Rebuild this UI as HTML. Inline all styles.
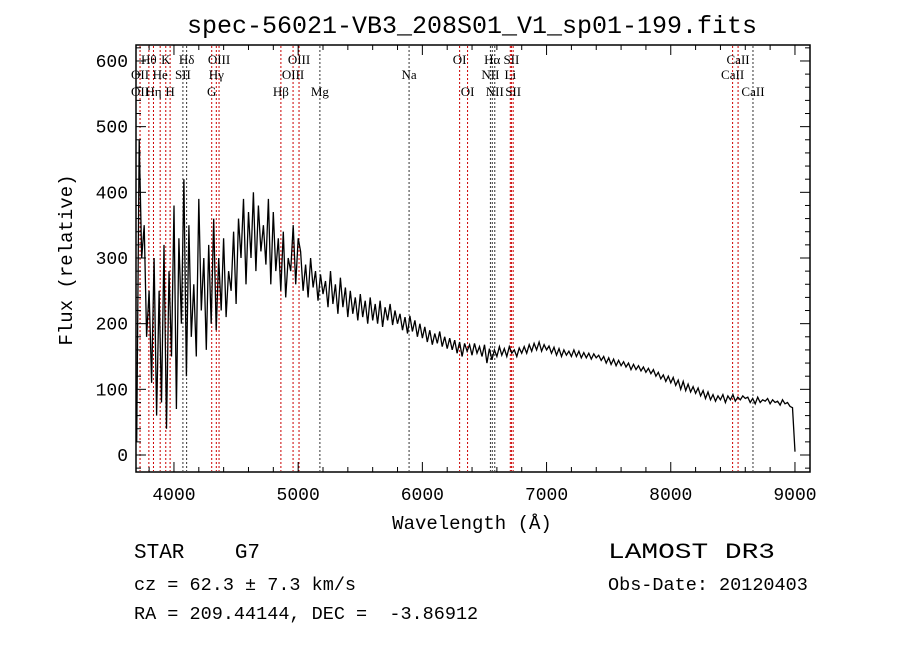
<!DOCTYPE html>
<html><head><meta charset="utf-8"><style>
body{margin:0;background:#fff;}
svg{display:block;}
text{fill:#000;white-space:pre;}
.mono{font-family:"Liberation Mono",monospace;}
.ser{font-family:"Liberation Serif",serif;font-size:13px;}
</style></head><body>
<svg id="chart" width="900" height="649" viewBox="0 0 900 649" xmlns="http://www.w3.org/2000/svg" xml:space="preserve">
<text x="472" y="33" text-anchor="middle" class="mono" font-size="25">spec-56021-VB3_208S01_V1_sp01-199.fits</text>
<rect x="136" y="45" width="674" height="427" fill="none" stroke="#000" stroke-width="1.5"/>
<g id="lines"></g>
<g id="ticks"></g>
<path id="spec" fill="none" stroke="#000" stroke-width="1.3"/>
<text x="472" y="529" text-anchor="middle" class="mono" font-size="19">Wavelength (Å)</text>
<text transform="translate(72,260) rotate(-90)" text-anchor="middle" class="mono" font-size="19">Flux (relative)</text>
<text x="134" y="558" class="mono" font-size="21">STAR    G7</text>
<text x="134" y="590" class="mono" font-size="18.5">cz = 62.3 ± 7.3 km/s</text>
<text x="134" y="619" class="mono" font-size="18.5">RA = 209.44144, DEC =  -3.86912</text>
<text x="608" y="558" class="mono" font-size="22" textLength="167" lengthAdjust="spacingAndGlyphs">LAMOST DR3</text>
<text x="608" y="590" class="mono" font-size="18.5">Obs-Date: 20120403</text>
</svg>
<script>
const wave1=[3700,3720,3740,3760,3780,3800,3820,3840,3860,3880,3900,3920,3940,3960,3980,4000,4020,4040,4060,4080,4100,4120,4140,4160,4180,4200,4220,4240,4260,4280,4300,4320,4340,4360,4380,4400,4420,4440,4460,4480,4500,4520,4540,4560,4580,4600,4620,4640,4660,4680,4700,4720,4740,4760,4780,4800,4820,4840,4860,4880,4900,4920,4940,4960,4980,5000];
const flux1=[20,480,300,350,180,250,110,300,60,250,80,320,40,280,150,380,70,330,200,420,120,350,180,260,150,390,220,300,160,320,200,360,190,300,220,330,210,280,250,340,230,360,300,390,260,370,300,400,280,380,310,350,290,390,260,370,280,330,250,340,240,300,280,350,260,330];
const wave2=[];for(let w=5020;w<=9000;w+=20)wave2.push(w);
const flux2=[310,250,290,240,300,255,280,235,275,245,
265,225,280,230,260,215,270,225,255,210,
250,215,240,205,245,210,235,200,240,205,
230,200,235,195,225,205,230,198,220,200,
215,190,210,185,212,188,205,180,200,178,
195,172,190,168,185,170,188,165,180,162,
178,160,175,155,172,150,170,158,168,152,
170,155,165,150,168,140,162,145,160,150,
165,152,162,150,165,155,160,150,163,155,
165,155,168,158,170,160,172,158,168,160,
166,155,164,152,162,150,160,152,158,150,
160,150,158,148,156,148,155,146,154,148,
152,144,150,140,148,138,146,136,144,136,
142,134,140,130,138,130,136,128,134,126,
132,124,130,120,126,116,122,112,120,110,
118,106,114,100,112,98,108,96,104,94,
102,90,98,86,96,84,92,82,90,84,
92,80,90,84,92,82,88,84,90,86,
88,80,86,78,88,80,84,82,86,78,
84,80,82,76,84,78,80,74,72,5];
const xTicks=[4000,5000,6000,7000,8000,9000];
const yTicks=[0,100,200,300,400,500,600];
const lineWaves=[3727,3798,3835,3889,3934,3969,4072,4102,4304,4341,4363,4861,4959,5007,5175,5893,6300,6364,6548,6563,6583,6708,6717,6731,8498,8542,8662];
const lineRed=[1,1,1,1,1,1,0,0,1,1,1,1,1,1,0,0,1,1,0,0,0,1,1,1,1,1,0];
const labels=[["Hθ",3798,0],["K",3934,0],["Hδ",4102,0],["OIII",4363,0],["OIII",5007,0],["OI",6300,0],["Hα",6563,0],["SII",6717,0],["CaII",8542,0],
["OII",3727,1],["He",3889,1],["SII",4072,1],["Hγ",4341,1],["OIII",4959,1],["Na",5893,1],["NII",6548,1],["Li",6708,1],["CaII",8498,1],
["OII",3727,2],["Hη",3835,2],["H",3969,2],["G",4304,2],["Hβ",4861,2],["Mg",5175,2],["OI",6364,2],["NII",6583,2],["SII",6731,2],["CaII",8662,2]];
const X=w=>136.7+(w-3700)*0.1242;
const Y=v=>455-v*0.6567;
const NS="http://www.w3.org/2000/svg";
const L=document.getElementById('lines');
lineWaves.forEach((w,i)=>{const l=document.createElementNS(NS,'line');


l.setAttribute('x1',X(w));l.setAttribute('x2',X(w));l.setAttribute('y1',46);l.setAttribute('y2',471);
l.setAttribute('stroke',lineRed[i]?'#c00':'#333');l.setAttribute('stroke-dasharray','2,2');l.setAttribute('stroke-width','1');L.appendChild(l);});
const rowY=[64,79,96];
labels.forEach(a=>{const t=document.createElementNS(NS,'text');


t.setAttribute('x',X(a[1]));t.setAttribute('y',rowY[a[2]]);t.setAttribute('text-anchor','middle');t.setAttribute('class','ser');t.textContent=a[0];L.appendChild(t);});
const T=document.getElementById('ticks');
function ln(x1,y1,x2,y2){const l=document.createElementNS(NS,'line');l.setAttribute('x1',x1);l.setAttribute('y1',y1);l.setAttribute('x2',x2);l.setAttribute('y2',y2);l.setAttribute('stroke','#000');T.appendChild(l);}
for(let w=3800;w<=9100;w+=200){const big=w%1000===0;ln(X(w),472,X(w),472-(big?10:5));ln(X(w),45,X(w),45+(big?10:5));}
for(let v=-20;v<=620;v+=20){const big=v%100===0;ln(136,Y(v),136+(big?10:5),Y(v));ln(810,Y(v),810-(big?10:5),Y(v));}
xTicks.forEach(w=>{const t=document.createElementNS(NS,'text');


t.setAttribute('x',X(w));t.setAttribute('y',500);t.setAttribute('text-anchor','middle');t.setAttribute('class','mono');t.setAttribute('font-size','18');t.textContent=w;T.appendChild(t);});
yTicks.forEach(v=>{const t=document.createElementNS(NS,'text');


t.setAttribute('x',128);t.setAttribute('y',Y(v)+6);t.setAttribute('text-anchor','end');t.setAttribute('class','mono');t.setAttribute('font-size','18');t.textContent=v;T.appendChild(t);});
const W=wave1.concat(wave2),F=flux1.concat(flux2);
document.getElementById('spec').setAttribute('d',W.map((w,i)=>(i?'L':'M')+X(w).toFixed(1)+' '+Y(F[i]).toFixed(1)).join(' '));
</script>
</body></html>
